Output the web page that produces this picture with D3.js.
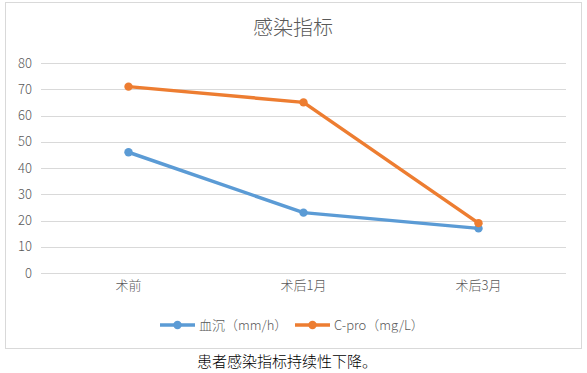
<!DOCTYPE html>
<html><head><meta charset="utf-8">
<script src="https://cdn.jsdelivr.net/npm/d3@7"></script>
<style>
html,body{margin:0;padding:0;background:#fff;}
svg{display:block;}
</style></head>
<body>
<svg id="chart" width="587" height="373"></svg>
<script>
const categories = ["术前", "术后1月", "术后3月"];
const esrValues = [46, 23, 17];
const cproValues = [71, 65, 19];
const seriesNames = ["血沉（mm/h）", "C-pro（mg/L）"];
const yTicks = [0, 10, 20, 30, 40, 50, 60, 70, 80];
const title = "感染指标";
const caption = "患者感染指标持续性下降。";

const series = [
  {name: seriesNames[0], values: esrValues, color: "#5B9BD5"},
  {name: seriesNames[1], values: cproValues, color: "#ED7D31"}
];

const svg = d3.select("#chart");
const font = "'Noto Sans CJK SC', 'Noto Sans', sans-serif";

// chart frame
svg.append("rect").attr("x", 5.5).attr("y", 2.5).attr("width", 576).attr("height", 346)
  .attr("fill", "#fff").attr("stroke", "#d9d9d9").attr("stroke-width", 1);

const x = d3.scaleBand().domain(categories).range([41, 566]);
const y = d3.scaleLinear().domain([0, 80]).range([273, 63]);

// gridlines
svg.append("g").selectAll("line").data(yTicks).join("line")
  .attr("x1", 41).attr("x2", 566)
  .attr("y1", d => Math.round(y(d)) + 0.5).attr("y2", d => Math.round(y(d)) + 0.5)
  .attr("stroke", "#d9d9d9").attr("stroke-width", 1);

// y axis labels
const yAxis = d3.axisLeft(y).tickValues(yTicks).tickSize(0).tickPadding(0);
const gy = svg.append("g").attr("transform", "translate(32,0)").call(yAxis);
gy.select(".domain").remove();
gy.selectAll("text").attr("font-family", font).attr("font-size", 13).attr("font-weight", 300).attr("fill", "#595959");

// x axis labels
const xAxis = d3.axisBottom(x).tickSize(0).tickPadding(0);
const gx = svg.append("g").attr("transform", "translate(0,281)").call(xAxis);
gx.select(".domain").remove();
gx.selectAll("text").attr("font-family", font).attr("font-size", 13).attr("font-weight", 300).attr("fill", "#595959");

// title
svg.append("text").attr("x", 293).attr("y", 35).attr("text-anchor", "middle")
  .attr("font-family", font).attr("font-size", 20).attr("font-weight", 300).attr("fill", "#595959").text(title);

const line = d3.line()
  .x((d, i) => x(categories[i]) + x.bandwidth() / 2)
  .y(d => y(d));

series.forEach(s => {
  svg.append("path").datum(s.values).attr("d", line)
    .attr("fill", "none").attr("stroke", s.color).attr("stroke-width", 3.5)
    .attr("stroke-linejoin", "round").attr("stroke-linecap", "round");
  svg.append("g").selectAll("circle").data(s.values).join("circle")
    .attr("cx", (d, i) => x(categories[i]) + x.bandwidth() / 2)
    .attr("cy", d => y(d)).attr("r", 4.2).attr("fill", s.color);
});

// legend
const legendX = [160, 295];
series.forEach((s, i) => {
  const g = svg.append("g").attr("transform", `translate(${legendX[i]},325)`);
  g.append("line").attr("x1", 0).attr("x2", 35).attr("y1", 0).attr("y2", 0)
    .attr("stroke", s.color).attr("stroke-width", 3.5);
  g.append("circle").attr("cx", 17.5).attr("cy", 0).attr("r", 4.2).attr("fill", s.color);
  g.append("text").attr("x", 39).attr("y", 4.5)
    .attr("font-family", font).attr("font-size", 13).attr("font-weight", 300).attr("fill", "#595959").text(s.name);
});

// caption
svg.append("text").attr("x", 287).attr("y", 367).attr("text-anchor", "middle")
  .attr("font-family", font).attr("font-size", 15).attr("font-weight", 300).attr("fill", "#000").text(caption);
</script>
</body></html>
